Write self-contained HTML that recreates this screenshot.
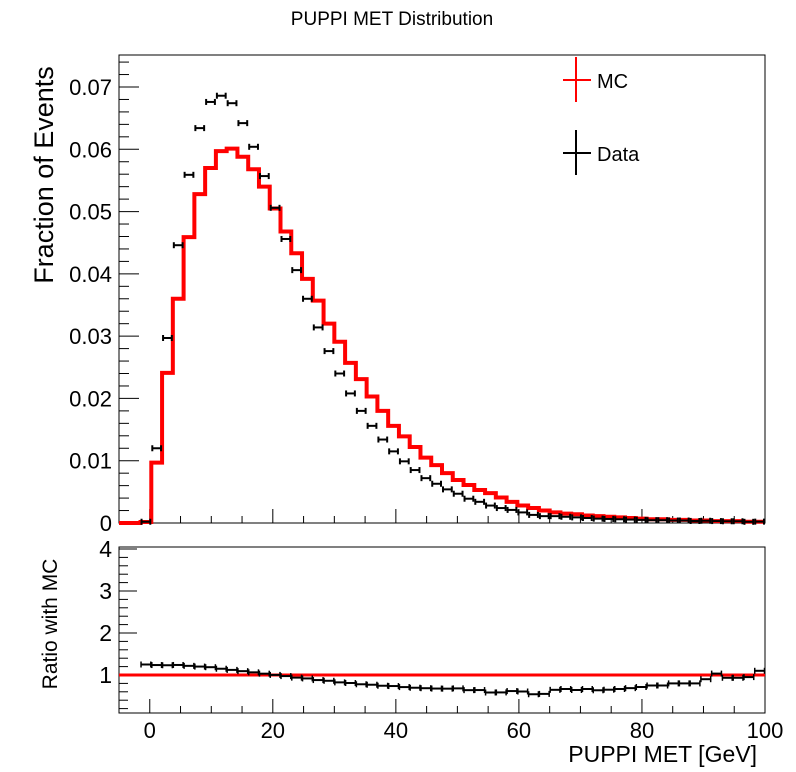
<!DOCTYPE html>
<html><head><meta charset="utf-8"><style>
html,body{margin:0;padding:0;background:#fff;}
svg{display:block;font-family:"Liberation Sans",sans-serif;}
</style></head><body>
<svg id="chart" width="796" height="772" viewBox="0 0 796 772">
<rect x="0" y="0" width="796" height="772" fill="#fff"/>
<text x="392" y="25" font-size="19" text-anchor="middle">PUPPI MET Distribution</text>
<g id="topPanel"></g>
<g id="botPanel"></g>
<text transform="translate(53,175) rotate(-90)" font-size="27" text-anchor="middle">Fraction of Events</text>
<text transform="translate(57,624) rotate(-90)" font-size="21" text-anchor="middle">Ratio with MC</text>
<text x="757" y="762" font-size="23" text-anchor="end">PUPPI MET [GeV]</text>
<g>
<g>
<line x1="563" y1="80" x2="591" y2="80" stroke="#f00" stroke-width="2"/>
<line x1="576" y1="57" x2="576" y2="102" stroke="#f00" stroke-width="2"/>
<text x="597" y="88" font-size="20">MC</text></g>
<g>
<line x1="563" y1="153" x2="591" y2="153" stroke="#000" stroke-width="2"/>
<line x1="576" y1="130" x2="576" y2="175" stroke="#000" stroke-width="2"/>
<text x="597" y="161" font-size="20">Data</text></g>
</g>
</svg>
<script>
const binLow = -5;
const binWidth = 1.75;
const mcValues = [0,0,0.00016,0.0097,0.0241,0.0360,0.0459,0.0528,0.0570,0.0597,0.0601,0.0588,0.0568,0.0540,0.0505,0.0468,0.0433,0.0392,0.0357,0.0320,0.0291,0.0257,0.0231,0.0203,0.0180,0.0156,0.0139,0.0122,0.0105,0.0093,0.0080,0.0069,0.0061,0.0053,0.0048,0.0041,0.0034,0.0028,0.0024,0.0020,0.0017,0.0015,0.0014,0.0012,0.0011,0.0010,0.0009,0.0008,0.0007,0.0006,0.0006,0.0005,0.0005,0.0004,0.0004,0.0003,0.0003,0.0003,0.0002,0.0002];
const dataValues = [0,0,0.0002,0.0120,0.0297,0.0446,0.0559,0.0634,0.0676,0.0686,0.0674,0.0642,0.0604,0.0557,0.0506,0.0456,0.0406,0.0360,0.0314,0.0276,0.0240,0.0208,0.0180,0.0156,0.0134,0.0115,0.0099,0.0085,0.0072,0.0063,0.0054,0.0047,0.0039,0.0034,0.0028,0.0024,0.0021,0.0017,0.0013,0.0011,0.0011,0.0010,0.0009,0.0008,0.0007,0.00065,0.0006,0.00055,0.0005,0.00045,0.00045,0.0004,0.0004,0.00032,0.00036,0.00031,0.00028,0.00028,0.00019,0.00022];
const yTicks = [0,0.01,0.02,0.03,0.04,0.05,0.06,0.07];
const yTickLabels = ["0","0.01","0.02","0.03","0.04","0.05","0.06","0.07"];
const rTicks = [1,2,3,4];
const xTicks = [0,20,40,60,80,100];

const NS="http://www.w3.org/2000/svg";
function mk(parent,tag,attrs){const e=document.createElementNS(NS,tag);for(const k in attrs)e.setAttribute(k,attrs[k]);parent.appendChild(e);return e;}
const L=119,R=765,T1=55,B1=523,T2=547,B2=713;
const X=v=>L+(v-binLow)/(100-binLow)*(R-L);
const Y=v=>B1-v*(B1-87)/0.07;
const RY=v=>675-(v-1)*42;
const topG=document.getElementById('topPanel'), botG=document.getElementById('botPanel');

let f=mk(topG,'rect',{x:L,y:T1,width:R-L,height:B1-T1,fill:'none',stroke:'#000','stroke-width':1});


f=mk(botG,'rect',{x:L,y:T2,width:R-L,height:B2-T2,fill:'none',stroke:'#000','stroke-width':1});



for(let v=0;v<=0.075;v+=0.002){const maj=Math.abs(v/0.01-Math.round(v/0.01))<1e-6;
 mk(topG,'line',{x1:L,x2:L+(maj?20:10),y1:Y(v),y2:Y(v),stroke:'#000','stroke-width':1});}
yTicks.forEach((v,i)=>{const t=mk(topG,'text',{x:L-7,y:Y(v)+8,'font-size':22,'text-anchor':'end'});t.textContent=yTickLabels[i];
 
 });
for(let v=0;v<=100;v+=5){const maj=v%20===0;
 mk(topG,'line',{x1:X(v),x2:X(v),y1:B1,y2:B1-(maj?14:7),stroke:'#000','stroke-width':1});
 mk(botG,'line',{x1:X(v),x2:X(v),y1:B2,y2:B2-(maj?14:7),stroke:'#000','stroke-width':1});}
xTicks.forEach(v=>{const t=mk(botG,'text',{x:X(v),y:738,'font-size':22,'text-anchor':'middle'});t.textContent=String(v);
 
 });
for(let v=0.2;v<=4.01;v+=0.2){const maj=Math.abs(v-Math.round(v))<1e-6;
 mk(botG,'line',{x1:L,x2:L+(maj?18:9),y1:RY(v),y2:RY(v),stroke:'#000','stroke-width':1});}
rTicks.forEach(v=>{const t=mk(botG,'text',{x:L-7,y:RY(v)+8,'font-size':23,'text-anchor':'end'});t.textContent=String(v);
 
 });

let d='M'+X(binLow)+','+Y(0);
mcValues.forEach((v,i)=>{const x0=X(binLow+i*binWidth),x1=X(binLow+(i+1)*binWidth);d+=' L'+x0+','+Y(v)+' L'+x1+','+Y(v);});
const mcPath=mk(topG,'path',{d:d,fill:'none',stroke:'#f00','stroke-width':4,'stroke-linejoin':'miter'});



dataValues.forEach((v,i)=>{if(i<2)return;
 const x0=X(binLow+i*binWidth),x1=X(binLow+(i+1)*binWidth),y=Y(v);
 const g=mk(topG,'g',{});
 
 
 mk(g,'line',{x1:x0+1,x2:x1-1,y1:y,y2:y,stroke:'#000','stroke-width':2});
 mk(g,'line',{x1:x0+1,x2:x0+1,y1:y-3,y2:y+3,stroke:'#000','stroke-width':2});
 mk(g,'line',{x1:x1-1,x2:x1-1,y1:y-3,y2:y+3,stroke:'#000','stroke-width':2});
});

const rl=mk(botG,'line',{x1:L,x2:R,y1:RY(1),y2:RY(1),stroke:'#f00','stroke-width':3});


dataValues.forEach((v,i)=>{if(!mcValues[i])return;
 const r=v/mcValues[i];const x0=X(binLow+i*binWidth),x1=X(binLow+(i+1)*binWidth),y=RY(r);
 const g=mk(botG,'g',{});
 
 
 mk(g,'line',{x1:x0,x2:x1,y1:y,y2:y,stroke:'#000','stroke-width':2});
 mk(g,'line',{x1:x0+0.5,x2:x0+0.5,y1:y-3,y2:y+3,stroke:'#000','stroke-width':1.5});
 mk(g,'line',{x1:x1-0.5,x2:x1-0.5,y1:y-3,y2:y+3,stroke:'#000','stroke-width':1.5});
});
</script>
</body></html>
